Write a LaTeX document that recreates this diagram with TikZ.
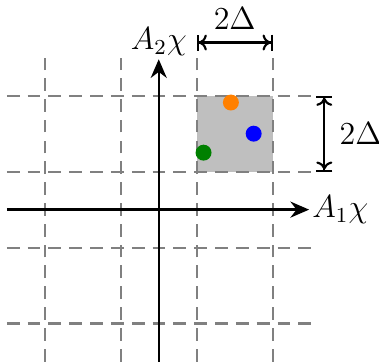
\documentclass[tikz,border=0pt]{standalone}
\usepackage{amsmath,amssymb}
\usepackage{xcolor}
\usetikzlibrary{arrows.meta}

\begin{document}
\begin{tikzpicture}[font=\large,
    gridline/.style={gray, dash pattern=on 4.8pt off 3pt, line width=0.8pt},
    axis/.style={line width=0.9pt, -{Stealth[length=7pt, width=6pt]}},
    dimline/.style={line width=0.8pt, {Bar[width=6pt]To[length=3pt, width=6pt]}-{To[length=3pt, width=6pt]Bar[width=6pt]}},
    pt/.style={circle, inner sep=0pt, minimum size=0.21cm}]
    \useasboundingbox (-2.09,-2.0) rectangle (2.9,2.76);

    % shaded cell
    \fill [gray!50] (0.5,0.5) rectangle (1.5,1.5);

    % dashed lattice
    \foreach \v in {-1.5,-0.5,0.5,1.5} {
        \draw [gridline] (\v,-2) -- (\v,2);
        \draw [gridline] (-2,\v) -- (2,\v);
    }

    % axes
    \coordinate (xs) at (-2,0);
    \coordinate (ys) at (0,-2);
    \node [anchor=west, inner sep=1pt] (xlab) at (1.98,0) {$A_1\chi$};
    \node [anchor=south, inner sep=1pt] (ylab) at (0,1.98) {$A_2\chi$};
    \draw [axis] (xs) -- (xlab.west);
    \draw [axis] (ys) -- (ylab.south);

    % points inside the cell
    \node [pt, fill=orange] (p1) at (0.95,1.41) {};
    \node [pt, fill=blue] (p2) at (1.25,1.0) {};
    \node [pt, fill=green!50!black] (p3) at (0.59,0.75) {};

    % cell size
    \coordinate (h1) at (0.5,2.2);
    \coordinate (h2) at (1.5,2.2);
    \coordinate (v1) at (2.18,1.5);
    \coordinate (v2) at (2.18,0.5);
    \draw [dimline] (h1) -- node[above=1pt] (hlab) {$2\Delta$} (h2);
    \draw [dimline] (v1) -- node[right=2pt] (vlab) {$2\Delta$} (v2);
\end{tikzpicture}
\end{document}
